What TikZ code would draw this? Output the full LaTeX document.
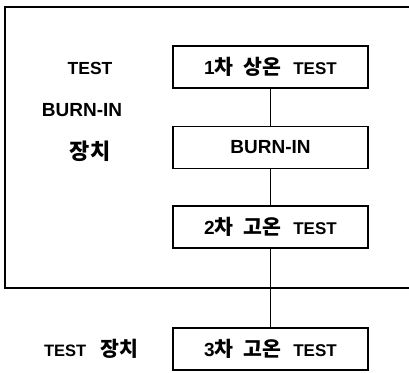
\documentclass[tikz,border=0pt]{standalone}
\usepackage{fontspec}
\setmainfont{Liberation Sans}
\newfontfamily\kr{Noto Sans CJK KR}
\newcommand{\kt}[2][20.5]{{\kr\fontsize{#1}{24}\selectfont #2}}
\newcommand{\dg}[1]{{\fontsize{19}{20}\selectfont #1}}
\begin{document}
\begin{tikzpicture}[x=1pt,y=-1pt,
  stepbox/.style={draw,line width=1.3pt,minimum width=195pt,minimum height=42pt,inner sep=0pt,font=\bfseries\fontsize{17}{20}\selectfont},
  lbl/.style={font=\bfseries\fontsize{17.5}{20}\selectfont,inner sep=0pt},
  conn/.style={line width=1.3pt}]
\useasboundingbox (0,0) rectangle (409,372);
\draw[line width=2pt] (409,7) -- (5,7) -- (5,288) -- (409,288);
\node[stepbox] (b1) at (270.5,67) {\dg{1}\kt{차}\hspace{10pt}\kt{상온}\hspace{12pt}TEST};
\node[stepbox] (b2) at (270.5,147.5) {\fontsize{19}{20}\selectfont BURN-IN};
\node[stepbox] (b3) at (270.5,227) {\dg{2}\kt{차}\hspace{10pt}\kt{고온}\hspace{12pt}TEST};
\node[stepbox] (b4) at (270.5,349) {\dg{3}\kt{차}\hspace{10pt}\kt{고온}\hspace{12pt}TEST};
\node[lbl] (l1) at (90,68) {TEST};
\node[lbl] (l2) at (82,110) {\fontsize{19}{20}\selectfont BURN-IN};
\node[lbl] (l3) at (90,151) {\kt[22]{장치}};
\node[lbl] (l4) at (91,349) {\fontsize{16.5}{20}\selectfont TEST\hspace{14pt}\kt[20.5]{장치}};
\draw[conn] (b1) -- (b2);
\draw[conn] (b2) -- (b3);
\draw[conn] (b3) -- (b4);
\end{tikzpicture}
\end{document}
